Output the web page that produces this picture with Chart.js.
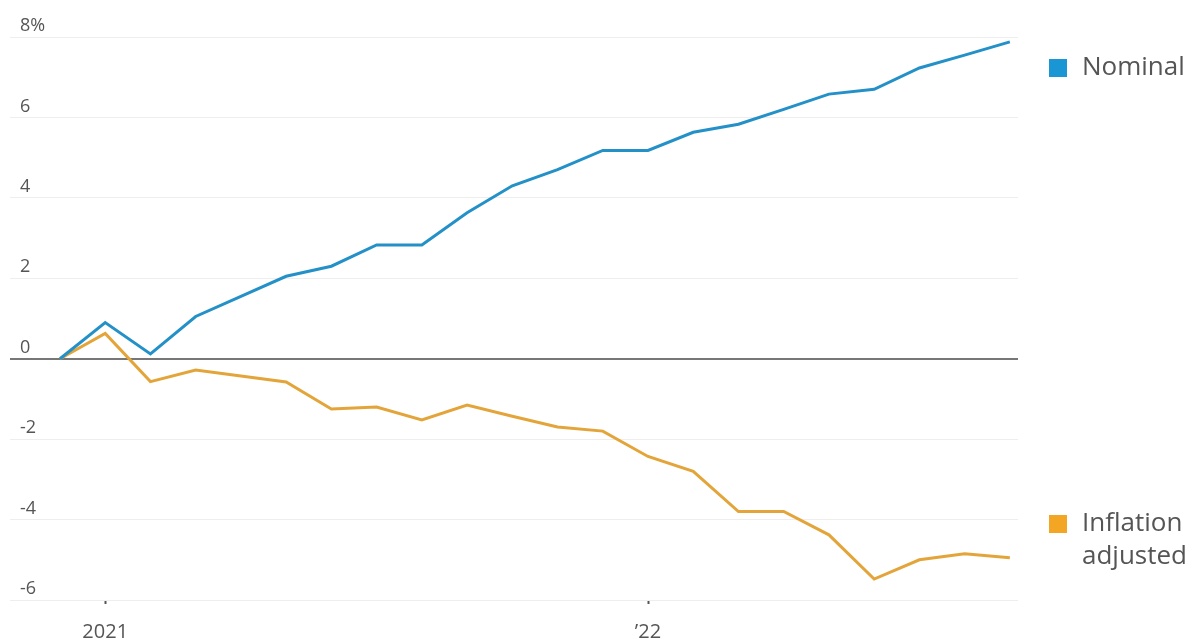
<!DOCTYPE html>
<html>
<head>
<meta charset="utf-8">
<script src="https://cdn.jsdelivr.net/npm/chart.js@4"></script>
<style>
  body { margin: 0; background: #fff; }
  #chart { display: block; }
</style>
</head>
<body>
<canvas id="chart" width="1197" height="644"></canvas>
<script>
// monthly readings, cumulative change in %
const months = ['Dec 2020', 'Jan 2021', 'Feb 2021', 'Mar 2021', 'Apr 2021', 'May 2021', 'Jun 2021',
  'Jul 2021', 'Aug 2021', 'Sep 2021', 'Oct 2021', 'Nov 2021', 'Dec 2021', 'Jan 2022', 'Feb 2022',
  'Mar 2022', 'Apr 2022', 'May 2022', 'Jun 2022', 'Jul 2022', 'Aug 2022', 'Sep 2022'];
const nominal = [0, 0.9, 0.12, 1.05, 1.55, 2.05, 2.3, 2.83, 2.83, 3.63, 4.3, 4.7, 5.18, 5.18,
  5.63, 5.83, 6.2, 6.58, 6.7, 7.23, 7.55, 7.88];
const inflationAdjusted = [0, 0.63, -0.57, -0.28, -0.43, -0.58, -1.25, -1.2, -1.52, -1.15, -1.43,
  -1.7, -1.8, -2.43, -2.8, -3.8, -3.8, -4.38, -5.48, -5.0, -4.85, -4.95];
const yTicks = [-6, -4, -2, 0, 2, 4, 6, 8];
const xTickLabels = { 1: '2021', 13: '\u201922' };

const BLUE = '#2490c8';
const ORANGE = '#e3a53a';

const toPoints = arr => arr.map((v, i) => ({ x: i, y: v }));

// legend boxes drawn at the right of the plot
const sideLegend = {
  id: 'sideLegend',
  afterDraw(chart) {
    const ctx = chart.ctx;
    const x = chart.chartArea.right + 31;
    ctx.save();
    ctx.font = '26px "Open Sans", sans-serif';
    ctx.textBaseline = 'middle';
    ctx.fillStyle = '#1a96d4';
    ctx.fillRect(x, 59, 18, 18);
    ctx.fillStyle = '#555';
    ctx.fillText('Nominal', x + 33, 68);
    ctx.fillStyle = '#f3a524';
    ctx.fillRect(x, 515, 18, 18);
    ctx.fillStyle = '#555';
    ctx.fillText('Inflation', x + 33, 524);
    ctx.fillText('adjusted', x + 33, 557);
    ctx.restore();
  }
};

new Chart(document.getElementById('chart'), {
  type: 'line',
  data: {
    labels: months,
    datasets: [
      { label: 'Nominal', data: toPoints(nominal), borderColor: BLUE, borderWidth: 3, pointRadius: 0, tension: 0 },
      { label: 'Inflation adjusted', data: toPoints(inflationAdjusted), borderColor: ORANGE, borderWidth: 3, pointRadius: 0, tension: 0 }
    ]
  },
  options: {
    responsive: false,
    animation: false,
    layout: { padding: { left: 10, right: 179, top: 37, bottom: 0 } },
    plugins: { legend: { display: false }, tooltip: { enabled: false } },
    scales: {
      x: {
        type: 'linear',
        min: -1.105,
        max: 21.18,
        afterBuildTicks: s => { s.ticks = [{ value: 1 }, { value: 13 }]; },
        afterFit: s => { s.height = 44; },
        border: { display: false },
        grid: { drawOnChartArea: false, drawTicks: true, tickLength: 4, tickWidth: 2, tickColor: '#555' },
        ticks: {
          padding: 16,
          color: '#555',
          font: { family: '"Open Sans", sans-serif', size: 20 },
          callback: v => xTickLabels[v] || ''
        }
      },
      y: {
        min: -6,
        max: 8,
        afterBuildTicks: s => { s.ticks = yTicks.map(v => ({ value: v })); },
        afterFit: s => { s.width = 0; },
        border: { display: false },
        grid: {
          drawTicks: false,
          color: c => c.tick && c.tick.value === 0 ? '#777' : '#eeeeee',
          lineWidth: c => c.tick && c.tick.value === 0 ? 2 : 1
        },
        ticks: {
          mirror: true,
          padding: 10,
          labelOffset: -11,
          color: '#555',
          font: { family: '"Open Sans", sans-serif', size: 18 },
          callback: v => v === 8 ? '8%' : v
        }
      }
    }
  },
  plugins: [sideLegend]
});
</script>
</body>
</html>
